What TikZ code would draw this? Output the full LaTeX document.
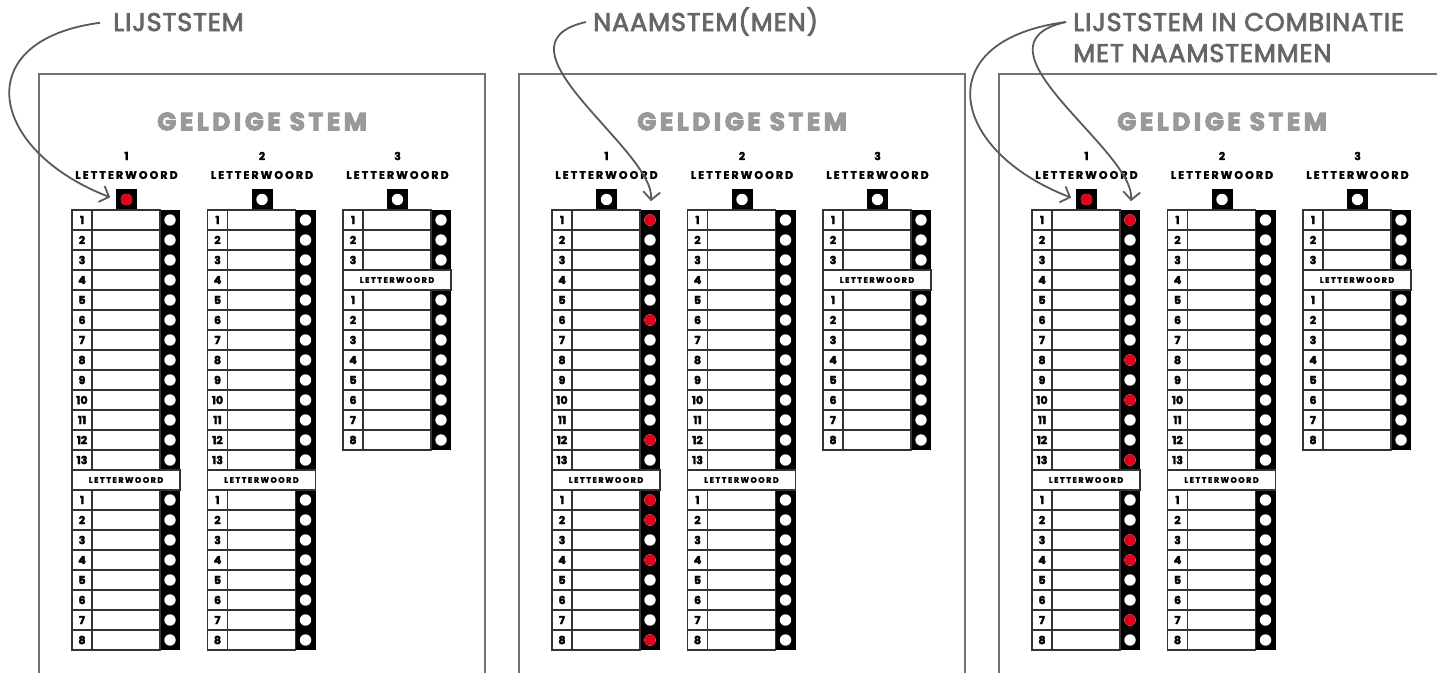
\documentclass[tikz,border=0pt]{standalone}
\usepackage{fontspec}
\setmainfont{Poppins}
\newfontfamily\spaced[LetterSpace=19, BoldFeatures={FakeBold=2}]{Poppins}
\newfontfamily\widespaced[LetterSpace=14, BoldFeatures={FakeBold=4}]{Poppins}
\newfontfamily\numfont[BoldFeatures={FakeBold=3}]{Poppins}
\newfontfamily\labelfont[LetterSpace=3.5, FakeBold=3]{Poppins}
\usetikzlibrary{arrows.meta}
\definecolor{votered}{HTML}{E2001A}

\begin{document}
\begin{tikzpicture}[x=1pt,y=-1pt,
  frame/.style={draw=black!55, line width=1.3pt},
  cell/.style={draw=black!80, line width=1.3pt, fill=white},
  dot/.style={circle, fill=white, minimum size=11.4pt, inner sep=0pt},
  rownum/.style={font=\numfont\bfseries\fontsize{11}{11}\selectfont, inner sep=0pt},
  colhead/.style={font=\spaced\bfseries\fontsize{11}{11}\selectfont, inner sep=0pt},
  subhead/.style={font=\spaced\bfseries\fontsize{8}{8}\selectfont, inner sep=0pt},
  title/.style={font=\widespaced\bfseries\fontsize{25}{25}\selectfont, text=black!40, inner sep=0pt},
  lbl/.style={font=\labelfont\fontsize{25.5}{25.5}\selectfont, text=black!60, anchor=west, inner xsep=7pt, inner ysep=0pt, text height=18pt, text depth=0pt},
  pointer/.style={draw=black!65, line width=1.8pt, -{Straight Barb[length=8pt,width=17pt]}}
]
\useasboundingbox (0,0) rectangle (1437,672);
\clip (0,0) rectangle (1437,672);
% The three ballots
\foreach \p/\ox in {1/0,2/480,3/960}
{
  \draw[frame] (\ox+39,690) |- (\ox+485,74) -- (\ox+485,690);
  \node[title] (title\p) at (\ox+262,121.5) {GELDIGE STEM};
  \foreach \c/\n/\cx in {1/13/72,2/13/207.5,3/3/343}
  {
    \pgfmathsetmacro\x{\ox+\cx}
    \pgfmathsetmacro\yh{210+20*\n}
    % list head
    \node[colhead] (num\p-\c) at (\x+54.5,156) {\c};
    \node[colhead] (head\p-\c) at (\x+54.5,175) {LETTERWOORD};
    \node[fill=black, minimum size=21pt, inner sep=0pt] (box\p-\c) at (\x+54.5,199.5) {};
    \node[dot] (bd\p-\c) at (box\p-\c) {};
    % the black strip
    \fill (\x+88,210) rectangle (\x+108,\yh+180);
    % the candidates
    \foreach \i in {1,...,\n}
    {
      \pgfmathsetmacro\y{190+20*\i}
      \draw[cell] (\x,\y) rectangle ++(20,20);
      \draw[cell] (\x+20,\y) rectangle ++(68,20);
      \node[rownum] (t\p-\c-\i) at (\x+10,\y+10) {\i};
      \node[dot] (d\p-\c-\i) at (\x+98,\y+10) {};
    }
    \draw[cell] (\x,\yh) rectangle ++(108,20);
    \node[subhead] (sub\p-\c) at (\x+54,\yh+10) {LETTERWOORD};
    \foreach \i in {1,...,8}
    {
      \pgfmathsetmacro\y{\yh+20*\i}
      \draw[cell] (\x,\y) rectangle ++(20,20);
      \draw[cell] (\x+20,\y) rectangle ++(68,20);
      \node[rownum] (b\p-\c-\i) at (\x+10,\y+10) {\i};
      \node[dot] (e\p-\c-\i) at (\x+98,\y+10) {};
    }
  }
}
% The red marks
\fill[votered] (bd1-1) circle (5.7pt);
\foreach \i in {1,6,12} \fill[votered] (d2-1-\i) circle (5.7pt);
\foreach \i in {1,2,4,8} \fill[votered] (e2-1-\i) circle (5.7pt);
\fill[votered] (bd3-1) circle (5.7pt);
\foreach \i in {1,8,10,13} \fill[votered] (d3-1-\i) circle (5.7pt);
\foreach \i in {3,4,7} \fill[votered] (e3-1-\i) circle (5.7pt);
% The labels
\node[lbl] (lbl1) at (106,22) {LIJSTSTEM};
\node[lbl] (lbl2) at (586,22) {NAAMSTEM(MEN)};
\node[lbl] (lbl3) at (1066,22) {LIJSTSTEM IN COMBINATIE};
\node[lbl] (lbl3b) at (1066,53) {MET NAAMSTEMMEN};
% The arrows
\draw[pointer, shorten <=6pt, shorten >=6pt] (lbl1.west) .. controls (-32,40) and (-12,150) .. (box1-1.west);
\draw[pointer, shorten >=13pt] (lbl2.west) .. controls (485,45) and (655,150) .. (d2-1-1.north);
\draw[pointer, shorten >=5pt] (lbl3.west) .. controls (928,40) and (948,150) .. (box3-1.west);
\draw[pointer, shorten >=13pt] (lbl3.west) .. controls (962,45) and (1135,150) .. (d3-1-1.north);
\end{tikzpicture}
\end{document}
